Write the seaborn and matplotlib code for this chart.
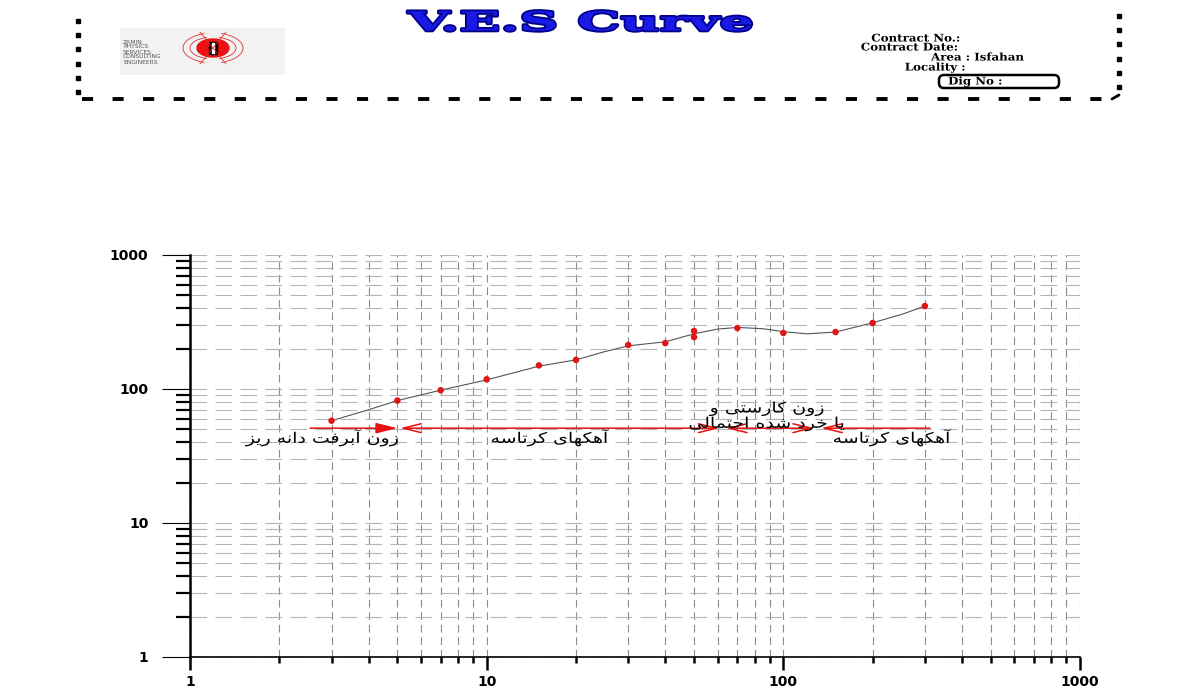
import matplotlib
matplotlib.use("Agg")
import matplotlib.pyplot as plt
import matplotlib.patheffects as pe
from matplotlib.patches import Rectangle, Ellipse, FancyBboxPatch, Arc
from matplotlib.ticker import NullFormatter
from matplotlib.transforms import Affine2D
import numpy as np
import seaborn as sns

# datos del sondeo (AB/2 en m, resistividad aparente en ohm.m)
ab2 = [3, 5, 7, 10, 15, 20, 30, 40, 50, 50, 70, 100, 150, 200, 300]
rho = [58, 82, 98, 118, 150, 165, 213, 220, 271, 244, 285, 262, 266, 311, 416]

# curva ajustada
curve_ab2 = [3, 4, 5, 7, 10, 15, 20, 25, 30, 40, 50, 60, 70, 85, 100, 120, 150, 200, 250, 300]
curve_rho = [58, 70, 82, 98, 117, 148, 165, 190, 210, 225, 258, 280, 288, 282, 268, 258, 266, 312, 360, 415]

# zonas interpretadas
zone_start = [2.54, 5.1, 64, 134]
zone_end = [5.0, 61, 127, 312]
zone_level = 51
zone_labels = ["زون آبرفت دانه ریز", "آهکهای کرتاسه",
               "زون کارستی و\nیا خرد شده احتمالی", "آهکهای کرتاسه"]

tick_vals = [1, 10, 100, 1000]
tick_labels = ["1", "10", "100", "1000"]

# formas de presentacion para escribir persa (matplotlib no une letras)
FORMS = {
    '\u0627': ('\uFE8D', '\uFE8E'), '\u0622': ('\uFE81', '\uFE82'),
    '\u062F': ('\uFEA9', '\uFEAA'), '\u0631': ('\uFEAD', '\uFEAE'),
    '\u0632': ('\uFEAF', '\uFEB0'), '\u0648': ('\uFEED', '\uFEEE'),
    '\u0628': ('\uFE8F', '\uFE90', '\uFE91', '\uFE92'),
    '\u062A': ('\uFE95', '\uFE96', '\uFE97', '\uFE98'),
    '\u062D': ('\uFEA1', '\uFEA2', '\uFEA3', '\uFEA4'),
    '\u062E': ('\uFEA5', '\uFEA6', '\uFEA7', '\uFEA8'),
    '\u0633': ('\uFEB1', '\uFEB2', '\uFEB3', '\uFEB4'),
    '\u0634': ('\uFEB5', '\uFEB6', '\uFEB7', '\uFEB8'),
    '\u0641': ('\uFED1', '\uFED2', '\uFED3', '\uFED4'),
    '\u0644': ('\uFEDD', '\uFEDE', '\uFEDF', '\uFEE0'),
    '\u0645': ('\uFEE1', '\uFEE2', '\uFEE3', '\uFEE4'),
    '\u0646': ('\uFEE5', '\uFEE6', '\uFEE7', '\uFEE8'),
    '\u0647': ('\uFEE9', '\uFEEA', '\uFEEB', '\uFEEC'),
    '\u06A9': ('\uFB8E', '\uFB8F', '\uFB90', '\uFB91'),
    '\u06CC': ('\uFBFC', '\uFBFD', '\uFBFE', '\uFBFF'),
}


def persa(texto):
    texto = texto.replace('\u064A', '\u06CC').replace('\u0643', '\u06A9')
    lineas = []
    for linea in texto.split('\n'):
        res = []
        for i, c in enumerate(linea):
            if c not in FORMS:
                res.append(c)
                continue
            f = FORMS[c]
            prev = linea[i - 1] if i > 0 else ''
            nxt = linea[i + 1] if i + 1 < len(linea) else ''
            jp = prev in FORMS and len(FORMS[prev]) == 4
            jn = len(f) == 4 and nxt in FORMS
            if jp and jn:
                res.append(f[3])
            elif jp:
                res.append(f[1])
            elif jn:
                res.append(f[2])
            else:
                res.append(f[0])
        lineas.append(''.join(reversed(res)))
    return '\n'.join(lineas)


class Estirar(pe.AbstractPathEffect):
    # ensancha el texto en horizontal respecto a su centro
    def __init__(self, sx, efectos=None):
        super().__init__()
        self.sx = sx
        self.efectos = efectos or [pe.Normal()]

    def draw_path(self, renderer, gc, tpath, affine, rgbFace=None):
        ext = tpath.get_extents()
        cx = (ext.x0 + ext.x1) / 2
        tr = Affine2D().translate(-cx, 0).scale(self.sx, 1).translate(cx, 0) + affine
        for ef in self.efectos:
            ef.draw_path(renderer, gc, tpath, tr, rgbFace)


sns.set_style("white")
plt.rcParams['font.family'] = ['DejaVu Sans']
plt.rcParams['lines.scale_dashes'] = False

fig = plt.figure(figsize=(12, 7), dpi=100)
fig.patch.set_facecolor('white')

# encabezado (coordenadas en pixeles)
hdr = fig.add_axes([0, 0, 1, 1])
hdr.set_xlim(0, 1200)
hdr.set_ylim(700, 0)
hdr.axis('off')

hdr.plot([78] * 6, np.linspace(21, 92, 6), ls='none', marker='s', ms=3.5, color='black')
hdr.plot([1119] * 6, np.linspace(16, 87, 6), ls='none', marker='s', ms=3.5, color='black')
hdr.plot([82, 1112], [99, 99], color='black', lw=2.8, ls=(0, (8, 14)))
hdr.plot([1112, 1119], [99, 95], color='black', lw=2)

hdr.add_patch(Rectangle((120, 28), 165, 47, color='#f2f2f2', lw=0))
hdr.text(123, 52, "ZAMIN\nPHYSICS\nSERVICES\nCONSULTING\nENGINEERS", fontsize=4.3,
         color='#555555', va='center', ha='left', linespacing=1.0)
for w, h in [(46, 22), (60, 30)]:
    hdr.add_patch(Arc((213, 48), w, h, theta1=120, theta2=240, color='#e03030', lw=0.6))
    hdr.add_patch(Arc((213, 48), w, h, theta1=-60, theta2=60, color='#e03030', lw=0.6))
hdr.plot([200, 226], [32, 64], color='#e03030', lw=0.6)
hdr.plot([226, 200], [32, 64], color='#e03030', lw=0.6)
hdr.add_patch(Ellipse((213, 48), 32, 18, color='#ee1111'))
hdr.add_patch(Rectangle((209, 42), 8, 12, color='black'))
hdr.add_patch(Rectangle((212, 43), 2, 10, color='white'))

hdr.text(580, 23, "V.E.S Curve", ha='center', va='center', fontsize=19,
         family='DejaVu Serif', weight='heavy', color='#1a1ae6',
         path_effects=[Estirar(2.05, [pe.Stroke(linewidth=2.6, foreground='#00008a'),
                                      pe.Normal()])])

info = [("Contract No.:", 876, 38), ("Contract Date:", 866, 47),
        ("Area : Isfahan", 936, 57), ("Locality :", 908, 67), ("Dig No :", 951, 81)]
for txt, xx, yy in info:
    hdr.text(xx, yy, txt, ha='left', va='center', fontsize=7.6,
             family='DejaVu Serif', weight='bold', color='black',
             path_effects=[Estirar(1.12)])
hdr.add_patch(FancyBboxPatch((939, 75), 120, 13, boxstyle='round,pad=0,rounding_size=5',
                             fc='none', ec='black', lw=1.8))

# grafico principal
ax = fig.add_axes([190 / 1200, 43 / 700, 890 / 1200, 402 / 700])
ax.set_xscale('log')
ax.set_yscale('log')
ax.set_xlim(1, 1000)
ax.set_ylim(1, 1000)

sns.lineplot(x=curve_ab2, y=curve_rho, ax=ax, color='#555555', lw=0.8, zorder=3)
sns.scatterplot(x=ab2, y=rho, ax=ax, color='#e01515', s=22, edgecolor='none', zorder=4)

ax.set_xticks(tick_vals)
ax.set_xticklabels(tick_labels)
ax.set_yticks(tick_vals)
ax.set_yticklabels(tick_labels)
ax.xaxis.set_minor_formatter(NullFormatter())
ax.yaxis.set_minor_formatter(NullFormatter())

ax.grid(True, which='both', axis='x', color='#8c8c8c', lw=0.8, ls=(0, (5.5, 3.5)))
ax.grid(True, which='both', axis='y', color='#b4b4b4', lw=0.8, ls=(0, (12, 6)))

ax.tick_params(axis='y', which='major', length=20, width=0.8, pad=10, labelsize=10,
               left=True, color='black', labelcolor='black')
ax.tick_params(axis='y', which='minor', length=10, width=1.6, left=True, color='black')
ax.tick_params(axis='x', which='major', length=9, width=1.8, pad=4, labelsize=10,
               bottom=True, color='black', labelcolor='black')
ax.tick_params(axis='x', which='minor', length=4.5, width=1.8, bottom=True, color='black')
for lab in ax.get_xticklabels() + ax.get_yticklabels():
    lab.set_fontweight('bold')

ax.spines['top'].set_visible(False)
ax.spines['right'].set_visible(False)
ax.spines['left'].set_linewidth(1.8)
ax.spines['bottom'].set_linewidth(1.2)
ax.spines['left'].set_color('black')
ax.spines['bottom'].set_color('black')
ax.set_xlabel('')
ax.set_ylabel('')

# flechas de las zonas
estilos = ['-|>', '<->', '<->', '<-']
for x0, x1, st in zip(zone_start, zone_end, estilos):
    ax.annotate('', xy=(x1, zone_level), xytext=(x0, zone_level),
                arrowprops=dict(arrowstyle=st + ',head_length=1.3,head_width=0.32',
                                color='#e81010', lw=1.1, mutation_scale=10,
                                shrinkA=0, shrinkB=0), zorder=5)

pos_labels = [(2.79, 43.5), (16.3, 43.5), (88, 63), (232, 43.5)]
for txt, (xx, yy) in zip(zone_labels, pos_labels):
    ax.text(xx, yy, persa(txt), ha='center', va='center', fontsize=10.5,
            family='DejaVu Sans', color='black', linespacing=1.0, zorder=6,
            path_effects=[Estirar(1.3)])

plt.savefig('out.png', dpi=100)
